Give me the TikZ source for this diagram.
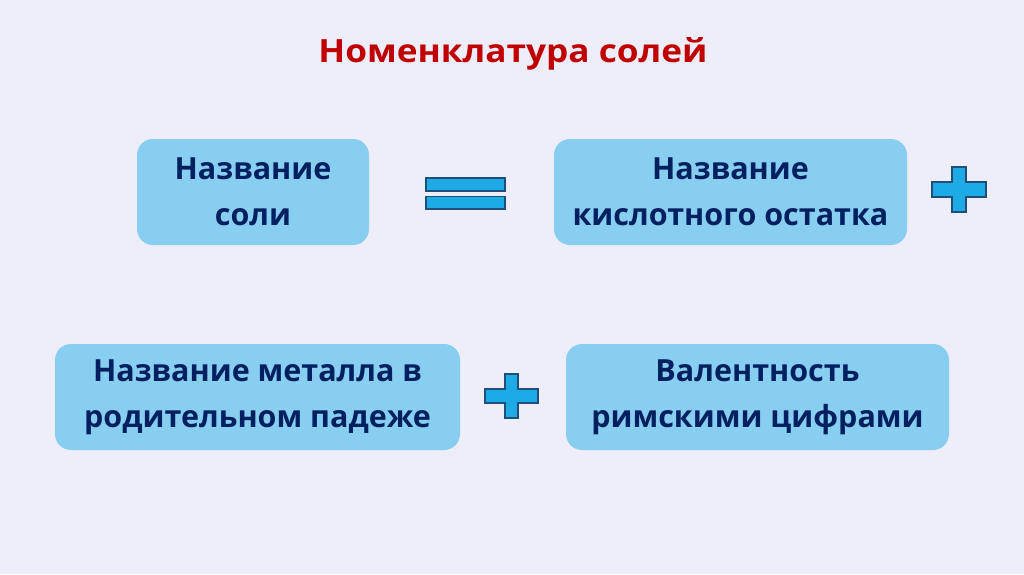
\documentclass[tikz,border=0pt]{standalone}
\usepackage{fontspec}
\setmainfont{Open Sans}
\definecolor{bg}{RGB}{238,237,250}
\definecolor{boxfill}{RGB}{135,206,240}
\definecolor{navy}{RGB}{0,32,96}
\definecolor{titlered}{RGB}{192,0,0}
\definecolor{signfill}{RGB}{30,170,228}
\definecolor{signline}{RGB}{31,78,121}
\tikzset{
  box/.style={fill=boxfill, rounded corners=16pt, align=center, inner sep=0pt,
    text=navy, font=\bfseries\fontsize{30.5}{46}\selectfont},
  sign/.style={fill=signfill, draw=signline, line width=1.5pt}
}
\begin{document}
\begin{tikzpicture}[x=1pt,y=-1pt]
\fill[bg] (0,0) rectangle (1024,574);
\useasboundingbox (0,0) rectangle (1024,574);
\node[text=titlered, font=\bfseries\fontsize{32}{38}\selectfont, anchor=base, inner sep=0pt] (title) at (513,62) {\scalebox{1.1}[1]{Номенклатура солей}};
\node[box, minimum width=232pt, minimum height=106pt] (salt) at (253,192) {Название\\соли};
\node[box, minimum width=353pt, minimum height=106pt] (acid) at (730.5,192) {Название\\кислотного остатка};
\node[box, minimum width=405pt, minimum height=106pt] (metal) at (257.5,397) {Название металла в\\родительном падеже};
\node[box, minimum width=383pt, minimum height=106pt] (val) at (757.5,397) {Валентность\\римскими цифрами};
% equals
\draw[sign] (426,178) rectangle (505,191);
\draw[sign] (426,196.5) rectangle (505,209);
% plus right
\draw[sign] (952,167) -- (966,167) -- (966,182) -- (986,182) -- (986,197) -- (966,197) -- (966,212) -- (952,212) -- (952,197) -- (932,197) -- (932,182) -- (952,182) -- cycle;
% plus bottom
\draw[sign] (505,374) -- (518,374) -- (518,389) -- (538,389) -- (538,403) -- (518,403) -- (518,418) -- (505,418) -- (505,403) -- (485,403) -- (485,389) -- (505,389) -- cycle;
\end{tikzpicture}
\end{document}
